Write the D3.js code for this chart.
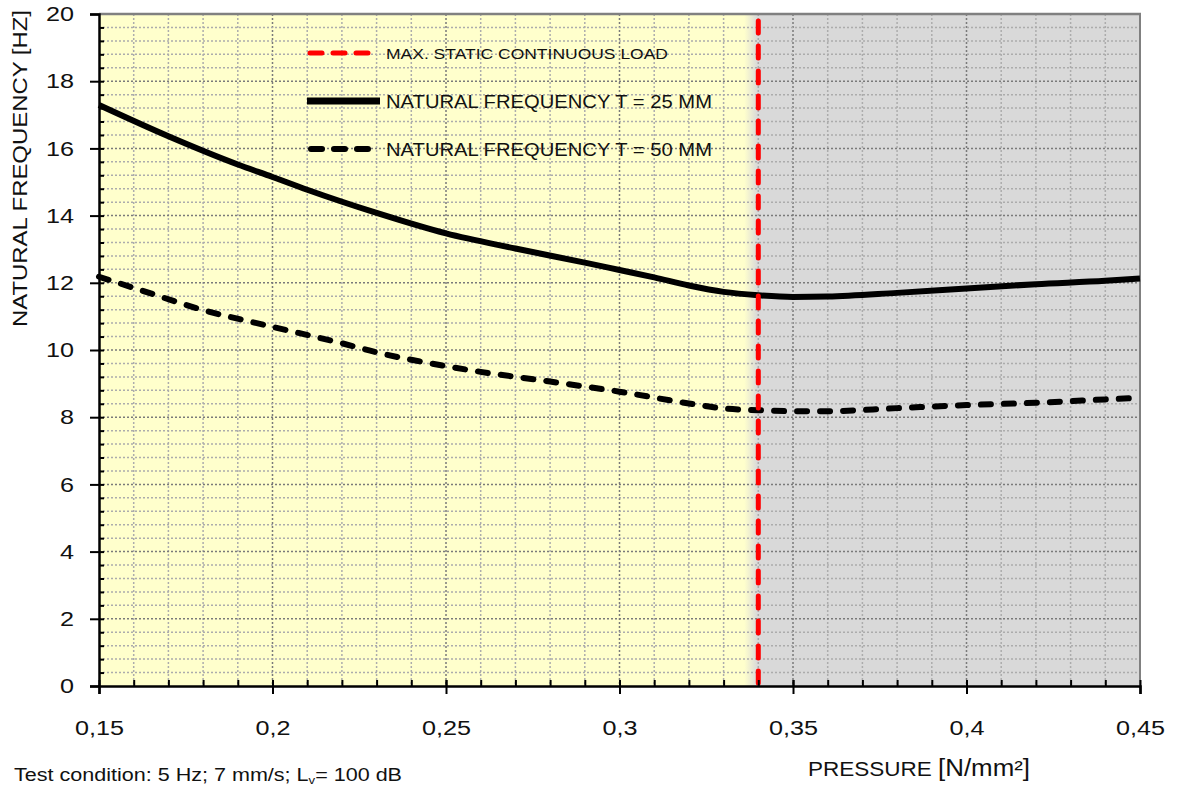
<!DOCTYPE html>
<html>
<head>
<meta charset="utf-8">
<script src="https://cdn.jsdelivr.net/npm/d3@7"></script>
<style>
body { margin: 0; background: #fff; }
text { font-family: "Liberation Sans", Arial, sans-serif; fill: #111; }
</style>
</head>
<body>
<script>
// values
var pressure25 = [0.15, 0.17, 0.19, 0.20, 0.21, 0.23, 0.25, 0.27, 0.29, 0.30, 0.31, 0.32, 0.33, 0.34, 0.35, 0.36, 0.38, 0.40, 0.42, 0.44, 0.45];
var freq25     = [17.29, 16.36, 15.52, 15.15, 14.77, 14.08, 13.47, 13.02, 12.60, 12.38, 12.16, 11.92, 11.73, 11.63, 11.58, 11.59, 11.70, 11.83, 11.96, 12.06, 12.13];
var pressure50 = [0.15, 0.16, 0.18, 0.20, 0.22, 0.23, 0.25, 0.26, 0.28, 0.30, 0.32, 0.33, 0.34, 0.35, 0.36, 0.38, 0.40, 0.42, 0.44, 0.45];
var freq50     = [12.18, 11.85, 11.19, 10.69, 10.20, 9.93, 9.52, 9.35, 9.06, 8.76, 8.41, 8.26, 8.21, 8.18, 8.18, 8.27, 8.36, 8.43, 8.53, 8.58];
var maxLoad = 0.34;
var xTicks = [0.15, 0.2, 0.25, 0.3, 0.35, 0.4, 0.45];
var yTicks = [0, 2, 4, 6, 8, 10, 12, 14, 16, 18, 20];
var legendLabels = ["MAX. STATIC CONTINUOUS LOAD", "NATURAL FREQUENCY T = 25 MM", "NATURAL FREQUENCY T = 50 MM"];

var svg = d3.select('body').append('svg')
  .attr('width', 1183)
  .attr('height', 785);

var pl = 99, pr = 1140, pt = 14, pb = 686;
var x = d3.scaleLinear().domain([0.15, 0.45]).range([pl, pr]);
var y = d3.scaleLinear().domain([0, 20]).range([pb, pt]);

// background: yellow up to max load, grey after, soft edge
var grad = svg.append('defs').append('linearGradient')
  .attr('id', 'bg').attr('gradientUnits', 'userSpaceOnUse')
  .attr('x1', pl).attr('x2', pr).attr('y1', 0).attr('y2', 0);
var edge0 = (x(maxLoad) - 14 - pl) / (pr - pl), edge1 = (x(maxLoad) - 1 - pl) / (pr - pl);
grad.append('stop').attr('offset', 0).attr('stop-color', '#ffffcc');
grad.append('stop').attr('offset', edge0).attr('stop-color', '#ffffcc');
grad.append('stop').attr('offset', edge1).attr('stop-color', '#d9d9d9');
grad.append('stop').attr('offset', 1).attr('stop-color', '#d9d9d9');

svg.append('rect')
  .attr('x', pl).attr('y', pt)
  .attr('width', pr - pl).attr('height', pb - pt)
  .attr('fill', 'url(#bg)');

// grid
var minorX = d3.range(16, 45).map(d => d / 100);
var minorY = d3.range(1, 50).map(d => Math.round(d * 4) / 10).filter(d => d < 20);
var isMajorX = d => Math.abs(d * 20 - Math.round(d * 20)) < 1e-6;
var isMajorY = d => Math.abs(d / 2 - Math.round(d / 2)) < 1e-6;
var grid = svg.append('g');
grid.selectAll('line.vx').data(minorX).enter().append('line')
  .attr('x1', d => x(d)).attr('x2', d => x(d))
  .attr('y1', pt).attr('y2', pb)
  .attr('stroke', d => isMajorX(d) ? '#7a7a7a' : '#acacac')
  .attr('stroke-width', 1.5)
  .attr('stroke-dasharray', '2,2');
grid.selectAll('line.hy').data(minorY).enter().append('line')
  .attr('y1', d => y(d)).attr('y2', d => y(d))
  .attr('x1', pl).attr('x2', pr)
  .attr('stroke', d => isMajorY(d) ? '#7a7a7a' : '#acacac')
  .attr('stroke-width', 1.5)
  .attr('stroke-dasharray', '2,2');

// frame top / right
svg.append('line').attr('x1', pl).attr('x2', pr + 1).attr('y1', pt).attr('y2', pt)
  .attr('stroke', '#808080').attr('stroke-width', 2.5);
svg.append('line').attr('x1', pr).attr('x2', pr).attr('y1', pt).attr('y2', pb)
  .attr('stroke', '#808080').attr('stroke-width', 2);

// curves
var line = d3.line().curve(d3.curveMonotoneX);
svg.append('path')
  .datum(pressure25.map((p, i) => [x(p), y(freq25[i])]))
  .attr('d', line)
  .attr('fill', 'none').attr('stroke', '#000').attr('stroke-width', 6);
svg.append('path')
  .datum(pressure50.map((p, i) => [x(p), y(freq50[i])]))
  .attr('d', line)
  .attr('fill', 'none').attr('stroke', '#000').attr('stroke-width', 6)
  .attr('stroke-dasharray', '10,13').attr('stroke-linecap', 'round');

// max load line
svg.append('line')
  .attr('x1', x(maxLoad)).attr('x2', x(maxLoad))
  .attr('y1', pb - 3).attr('y2', pt)
  .attr('stroke', '#ff0000').attr('stroke-width', 5)
  .attr('stroke-linecap', 'round')
  .attr('stroke-dasharray', '12,13');

// axes
var fmt = d => String(d).replace('.', ',');
var sx = 1.2;
var xAxis = svg.append('g').attr('transform', 'translate(0,' + pb + ')')
  .call(d3.axisBottom(x).tickValues(xTicks).tickFormat(fmt).tickSize(8).tickPadding(26));
var xMinor = svg.append('g').attr('transform', 'translate(0,' + pb + ')')
  .call(d3.axisBottom(x).tickValues(minorX).tickFormat('').tickSize(-6));
var yAxis = svg.append('g').attr('transform', 'translate(' + pl + ',0)')
  .call(d3.axisLeft(y).tickValues(yTicks).tickSize(9).tickPadding(16));
var yMinor = svg.append('g').attr('transform', 'translate(' + pl + ',0)')
  .call(d3.axisLeft(y).tickValues(minorY).tickFormat('').tickSize(-5));

[xAxis, xMinor, yAxis, yMinor].forEach(function (a) {
  a.select('.domain').attr('stroke', '#000').attr('stroke-width', 2.5);
  a.selectAll('.tick line').attr('stroke', '#000').attr('stroke-width', 2);
  a.selectAll('.tick text').style('font-size', '21px').attr('fill', '#111')
    .style('font-family', '"Liberation Sans", Arial, sans-serif');
});
xMinor.select('.domain').remove();
yMinor.select('.domain').remove();
xAxis.selectAll('.tick line').attr('y1', -6);
// wider digits like the reference
xAxis.selectAll('.tick text').attr('transform', 'scale(' + sx + ',1)');
yAxis.selectAll('.tick text').attr('x', -25 / sx).attr('transform', 'scale(' + sx + ',1)');

// legend
var lg = svg.append('g');
lg.append('line').attr('x1', 310).attr('x2', 372).attr('y1', 53).attr('y2', 53)
  .attr('stroke', '#ff0000').attr('stroke-width', 5).attr('stroke-linecap', 'round')
  .attr('stroke-dasharray', '12,11');
lg.append('text').attr('x', 386).attr('y', 59).style('font-size', '15px')
  .attr('textLength', 282).attr('lengthAdjust', 'spacingAndGlyphs')
  .text(legendLabels[0]);
lg.append('line').attr('x1', 307).attr('x2', 380).attr('y1', 101).attr('y2', 101)
  .attr('stroke', '#000').attr('stroke-width', 7);
lg.append('text').attr('x', 386).attr('y', 108).style('font-size', '18px')
  .attr('textLength', 326).attr('lengthAdjust', 'spacingAndGlyphs')
  .text(legendLabels[1]);
lg.append('line').attr('x1', 311).attr('x2', 372).attr('y1', 149).attr('y2', 149)
  .attr('stroke', '#000').attr('stroke-width', 6).attr('stroke-linecap', 'round')
  .attr('stroke-dasharray', '11,12');
lg.append('text').attr('x', 386).attr('y', 156).style('font-size', '18px')
  .attr('textLength', 326).attr('lengthAdjust', 'spacingAndGlyphs')
  .text(legendLabels[2]);

// titles
svg.append('text')
  .attr('transform', 'translate(27,327) rotate(-90)')
  .style('font-size', '20px')
  .attr('textLength', 317).attr('lengthAdjust', 'spacingAndGlyphs')
  .text('NATURAL FREQUENCY [HZ]');

var xt = svg.append('text').attr('x', 808).attr('y', 776)
  .attr('textLength', 222).attr('lengthAdjust', 'spacingAndGlyphs');
xt.append('tspan').style('font-size', '20px').text('PRESSURE  ');
xt.append('tspan').style('font-size', '23px').text('[N/mm²]');

var note = svg.append('text').attr('x', 14).attr('y', 781)
  .style('font-size', '18px').attr('fill', '#333')
  .attr('textLength', 388).attr('lengthAdjust', 'spacingAndGlyphs');
note.append('tspan').text('Test condition: 5 Hz; 7 mm/s; L');
note.append('tspan').attr('dy', 3).style('font-size', '11px').text('v');
note.append('tspan').attr('dy', -3).text('= 100 dB');
</script>
</body>
</html>
